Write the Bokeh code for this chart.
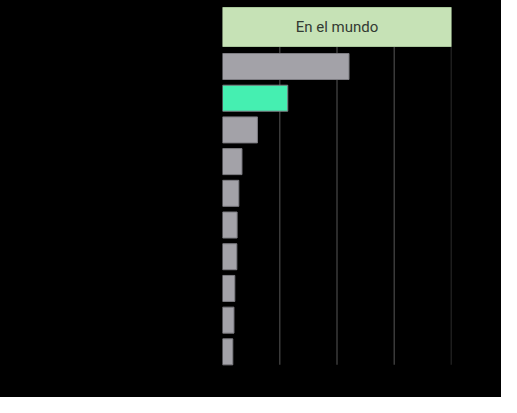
from bokeh.plotting import figure
from bokeh.models import Range1d, ColumnDataSource
from bokeh.embed import file_html
from bokeh.resources import INLINE
from bokeh.core.properties import value

header_label = "En el mundo"
categories = ["1", "2", "3", "4", "5", "6", "7", "8", "9", "10"]
values = [22.1, 11.4, 6.1, 3.4, 2.85, 2.55, 2.5, 2.15, 2.0, 1.8]
highlight = [False, True, False, False, False, False, False, False, False, False]
grid_ticks = [10, 20, 30, 40]
x_max = 40

GRAY = "#a3a2a8"
GREEN = "#45efb1"
HEADER = "#c6e2b6"

pos = list(range(len(categories)))
colors = [GREEN if h else GRAY for h in highlight]
src = ColumnDataSource(dict(y=pos, right=values, color=colors, cat=categories))

p = figure(width=501, height=397, output_backend="svg", toolbar_location=None,
           x_range=Range1d(0, x_max), y_range=Range1d(10.44, -2.082),
           x_axis_location=None, y_axis_location=None,
           min_border_left=222, min_border_right=50, min_border_top=0, min_border_bottom=0,
           background_fill_color="black", border_fill_color="black")
p.styles = {"background-color": "black"}
p.outline_line_color = None
p.xgrid.visible = False
p.ygrid.visible = False

# grid lines (limited vertical extent)
p.segment(x0=grid_ticks, x1=grid_ticks, y0=[-0.63] * 4, y1=[9.41] * 4,
          line_color="#3a3a3a", line_width=1.5)

# header
p.hbar(y=[-1.246], left=[0], right=[x_max], height=1.23, fill_color=HEADER,
       line_color="#a9c79b", line_width=1)
p.segment(x0=[-0.35], x1=[-0.35], y0=[-1.86], y1=[-0.63], line_color="#4a4f48", line_width=1.5)
p.text(x=[x_max / 2], y=[-1.246], text=[header_label], text_align="center",
       text_baseline="middle", text_color="#333a33", text_font_size="15px",
       text_font=value("Roboto"))

# bars
p.hbar(y="y", left=0, right="right", height=0.82, fill_color="color",
       line_color="#7d7c82", line_width=1, source=src)

open("out.html", "w").write(file_html(p, INLINE))
